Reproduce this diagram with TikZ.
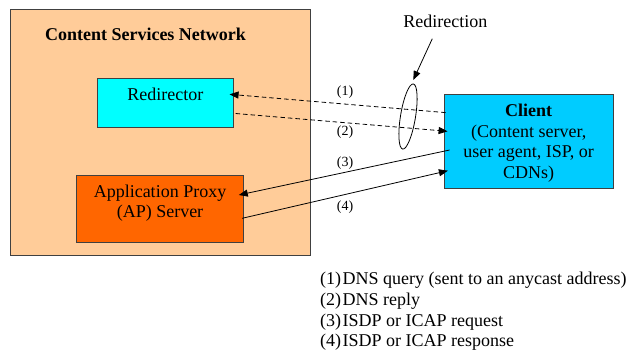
\documentclass[tikz,border=0pt]{standalone}
\usepackage{fontspec}
\setmainfont{Liberation Serif}
\usetikzlibrary{arrows.meta,shapes.geometric}
\definecolor{cnpeach}{HTML}{FFCC99}
\definecolor{redircyan}{HTML}{00FFFF}
\definecolor{aporange}{HTML}{FF6600}
\definecolor{clientblue}{HTML}{00CCFF}
\definecolor{edgegray}{HTML}{404040}
\begin{document}
\begin{tikzpicture}[x=1pt,y=-1pt,
  box/.style={draw=edgegray, line width=0.9pt, inner sep=0pt, rectangle},
  txt/.style={inner sep=0pt, font=\fontsize{18}{20.6}\selectfont, align=center},
  numlbl/.style={inner sep=0pt, font=\fontsize{14}{16}\selectfont},
  conn/.style={line width=0.8pt, -{Triangle[length=9pt,width=7pt]}},
  dashconn/.style={conn, dash pattern=on 4.5pt off 3pt},
]
\useasboundingbox (0,0) rectangle (628,351);
% boxes
\node[box, fill=cnpeach, minimum width=300, minimum height=246] (csn) at (160,132.5) {};
\node[box, fill=redircyan, minimum width=136, minimum height=49] (redir) at (165.4,102.9) {};
\node[box, fill=aporange, minimum width=166.6, minimum height=66.6] (ap) at (160,209) {};
\node[box, fill=clientblue, minimum width=169.3, minimum height=94.7] (client) at (528.7,141.3) {};
% texts
\node[txt, anchor=base, font=\fontsize{18}{20.6}\selectfont\bfseries] (csntxt) at (145.5,40.5) {Content Services Network};
\node[txt, anchor=base] (redirtxt) at (165.4,100) {Redirector};
\node[txt, anchor=north] (aptxt) at (160,184.4) {Application Proxy\\(AP) Server};
\node[txt, anchor=north] (clienttxt) at (528.7,103.8) {\textbf{Client}\\(Content server,\\user agent, ISP, or\\CDNs)};
% connectors
\draw[dashconn] ([shift={(2,-28.7)}]client.west) -- ([shift={(-4.3,-8.6)}]redir.east);
\draw[dashconn] ([shift={(1.7,10.6)}]redir.east) -- ([shift={(4,-10)}]client.west);
\draw[conn] ([shift={(6,8.7)}]client.west) -- ([shift={(-5,-14)}]ap.east);
\draw[conn] ([shift={(-1.6,9.3)}]ap.east) -- ([shift={(4.3,29.4)}]client.west);
% connector labels
\node[numlbl] (l1) at (345,91.7) {(1)};
\node[numlbl] (l2) at (345,131.7) {(2)};
\node[numlbl] (l3) at (345,162.7) {(3)};
\node[numlbl] (l4) at (345,206.7) {(4)};
% redirection
\node[draw, ellipse, line width=0.8pt, inner sep=0pt, minimum width=66pt, minimum height=15pt, rotate=80.7] (ell) at (408,116.5) {};
\node[txt, anchor=base] (redirlbl) at (445.3,27.7) {Redirection};
\draw[conn] ([shift={(-13,10.6)}]redirlbl.south) -- ([shift={(5.3,-36.5)}]ell.center);
% legend
\node[txt, align=left, anchor=north west] (legend) at (320,272.3) {(1)\kern1.5pt DNS query (sent to an anycast address)\\(2)\kern1.5pt DNS reply\\(3)\kern1.5pt ISDP or ICAP request\\(4)\kern1.5pt ISDP or ICAP response};
\end{tikzpicture}
\end{document}
